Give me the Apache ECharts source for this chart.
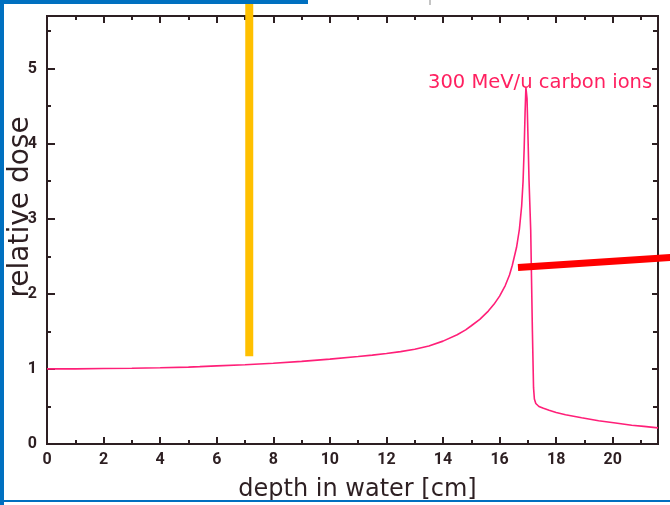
<!DOCTYPE html>
<html>
<head>
<meta charset="utf-8">
<script src="https://cdn.jsdelivr.net/npm/echarts@6/dist/echarts.min.js"></script>
<style>
  html, body { margin: 0; padding: 0; background: #ffffff; }
  #chart { width: 670px; height: 505px; }
</style>
</head>
<body>
<div id="chart"></div>
<script>
// Depth-dose curve of a 300 MeV/u carbon beam in water
const depthCm = [0, 1, 2, 3, 4, 5, 5.4, 6, 7, 8, 9, 10, 11, 11.5, 12, 12.5, 13, 13.5, 14, 14.5, 14.8, 15, 15.3, 15.6, 15.8, 16, 16.2, 16.35, 16.45, 16.6, 16.7, 16.78, 16.83, 16.87, 16.9, 16.93, 16.97, 17.01, 17.04, 17.1, 17.16, 17.2, 17.23, 17.28, 17.39, 17.55, 17.75, 18, 18.33, 18.9, 19.5, 20.1, 20.67, 21.1, 21.6];
const relativeDose = [1.0, 1.0, 1.005, 1.008, 1.015, 1.024, 1.03, 1.04, 1.055, 1.075, 1.1, 1.13, 1.165, 1.184, 1.205, 1.23, 1.262, 1.305, 1.37, 1.455, 1.52, 1.575, 1.66, 1.77, 1.86, 1.97, 2.11, 2.25, 2.38, 2.62, 2.86, 3.17, 3.5, 3.95, 4.4, 4.75, 4.6, 4.0, 3.52, 2.85, 1.5, 0.75, 0.6, 0.54, 0.5, 0.475, 0.45, 0.42, 0.39, 0.35, 0.31, 0.28, 0.25, 0.235, 0.215];

// Highlight strokes laid over the plot
const markerX = [7.15, 7.15];
const markerY = [1.17, 5.95];
const slopeX = [16.65, 22.1];
const slopeY = [2.35, 2.485];

// Axis ticks and labels
const xMajor = [0, 2, 4, 6, 8, 10, 12, 14, 16, 18, 20];
const xMinor = [1, 3, 5, 7, 9, 11, 13, 15, 17, 19, 21];
const yMajor = [0, 1, 2, 3, 4, 5];
const yMinor = [0.5, 1.5, 2.5, 3.5, 4.5, 5.5];

const X_MAX = 21.6;
const Y_MAX = 5.7;
const ink = '#2d1f22';
const tickFont = "Roboto, 'DejaVu Sans', sans-serif";

function pairs(xs, ys) { return xs.map((x, i) => [x, ys[i]]); }

function axisDef(position, max, values, len, withLabels, margin) {
  return {
    type: 'value', position: position, min: 0, max: max,
    axisLine: { show: false, onZero: false },
    splitLine: { show: false },
    axisTick: { show: true, inside: true, length: len, customValues: values,
      lineStyle: { color: ink, width: 2 } },
    axisLabel: withLabels ? {
      show: true, customValues: values, margin: margin,
      color: ink, fontFamily: tickFont, fontWeight: 'bold', fontSize: 16
    } : { show: false }
  };
}

// Straight stroke between two data points, drawn through the axis scales
function strokeSeries(xs, ys, color, width) {
  return {
    type: 'custom', xAxisIndex: 0, yAxisIndex: 0, clip: false, z: 6,
    data: [[xs[0], ys[0], xs[1], ys[1]]],
    encode: { x: [0, 2], y: [1, 3] },
    renderItem: function (params, api) {
      const p0 = api.coord([api.value(0), api.value(1)]);
      const p1 = api.coord([api.value(2), api.value(3)]);
      return {
        type: 'line',
        shape: { x1: p0[0], y1: p0[1], x2: p1[0], y2: p1[1] },
        style: { stroke: color, lineWidth: width, lineCap: 'butt', fill: null }
      };
    }
  };
}

const chart = echarts.init(document.getElementById('chart'), null, { renderer: 'canvas' });

const xBottom = axisDef('bottom', X_MAX, xMajor, 7, true, 8);
xBottom.name = 'depth in water [cm]';
xBottom.nameLocation = 'middle';
xBottom.nameGap = 34;
xBottom.nameMoveOverlap = false;
xBottom.nameTextStyle = { color: ink, fontFamily: 'DejaVu Sans', fontSize: 24, padding: [0, 0, 0, 10] };

const yLeft = axisDef('left', Y_MAX, yMajor, 8, true, 10);
yLeft.name = 'relative dose';
yLeft.nameLocation = 'middle';
yLeft.nameGap = 12;
yLeft.nameMoveOverlap = false;
yLeft.nameTextStyle = { color: ink, fontFamily: 'DejaVu Sans', fontSize: 28, padding: [0, 0, 0, 46] };

chart.setOption({
  animation: false,
  backgroundColor: '#ffffff',
  grid: {
    left: 47, top: 16, right: 12, bottom: 61,
    outerBoundsMode: 'none', containLabel: false,
    show: true, borderColor: ink, borderWidth: 2, backgroundColor: 'transparent'
  },
  xAxis: [
    xBottom,
    axisDef('bottom', X_MAX, xMinor, 4, false),
    axisDef('top', X_MAX, xMajor, 7, false),
    axisDef('top', X_MAX, xMinor, 4, false)
  ],
  yAxis: [
    yLeft,
    axisDef('left', Y_MAX, yMinor, 4, false),
    axisDef('right', Y_MAX, yMajor, 6, false),
    axisDef('right', Y_MAX, yMinor, 5, false)
  ],
  series: [
    {
      name: 'dose', type: 'line', xAxisIndex: 0, yAxisIndex: 0,
      data: pairs(depthCm, relativeDose),
      showSymbol: false, smooth: false,
      lineStyle: { color: '#ff1f78', width: 1.6 },
      z: 3
    },
    strokeSeries(markerX, markerY, '#ffc000', 8),
    strokeSeries(slopeX, slopeY, '#ff0000', 7)
  ],
  graphic: [
    { type: 'text', left: 428, top: 73, z: 5,
      style: { text: '300 MeV/u carbon ions', fill: '#ff2060',
        font: "19.5px 'DejaVu Sans', sans-serif" } },
    // slide frame
    { type: 'rect', shape: { x: 0, y: 0, width: 4, height: 505 }, style: { fill: '#0070c0' }, z: 10 },
    { type: 'rect', shape: { x: 0, y: 0, width: 308, height: 4 }, style: { fill: '#0070c0' }, z: 10 },
    { type: 'rect', shape: { x: 0, y: 500, width: 670, height: 2 }, style: { fill: '#0070c0' }, z: 10 },
    { type: 'line', shape: { x1: 430, y1: 0, x2: 430, y2: 5 }, style: { stroke: '#b0b0b0', lineWidth: 1.5 }, z: 10 }
  ]
});
</script>
</body>
</html>
